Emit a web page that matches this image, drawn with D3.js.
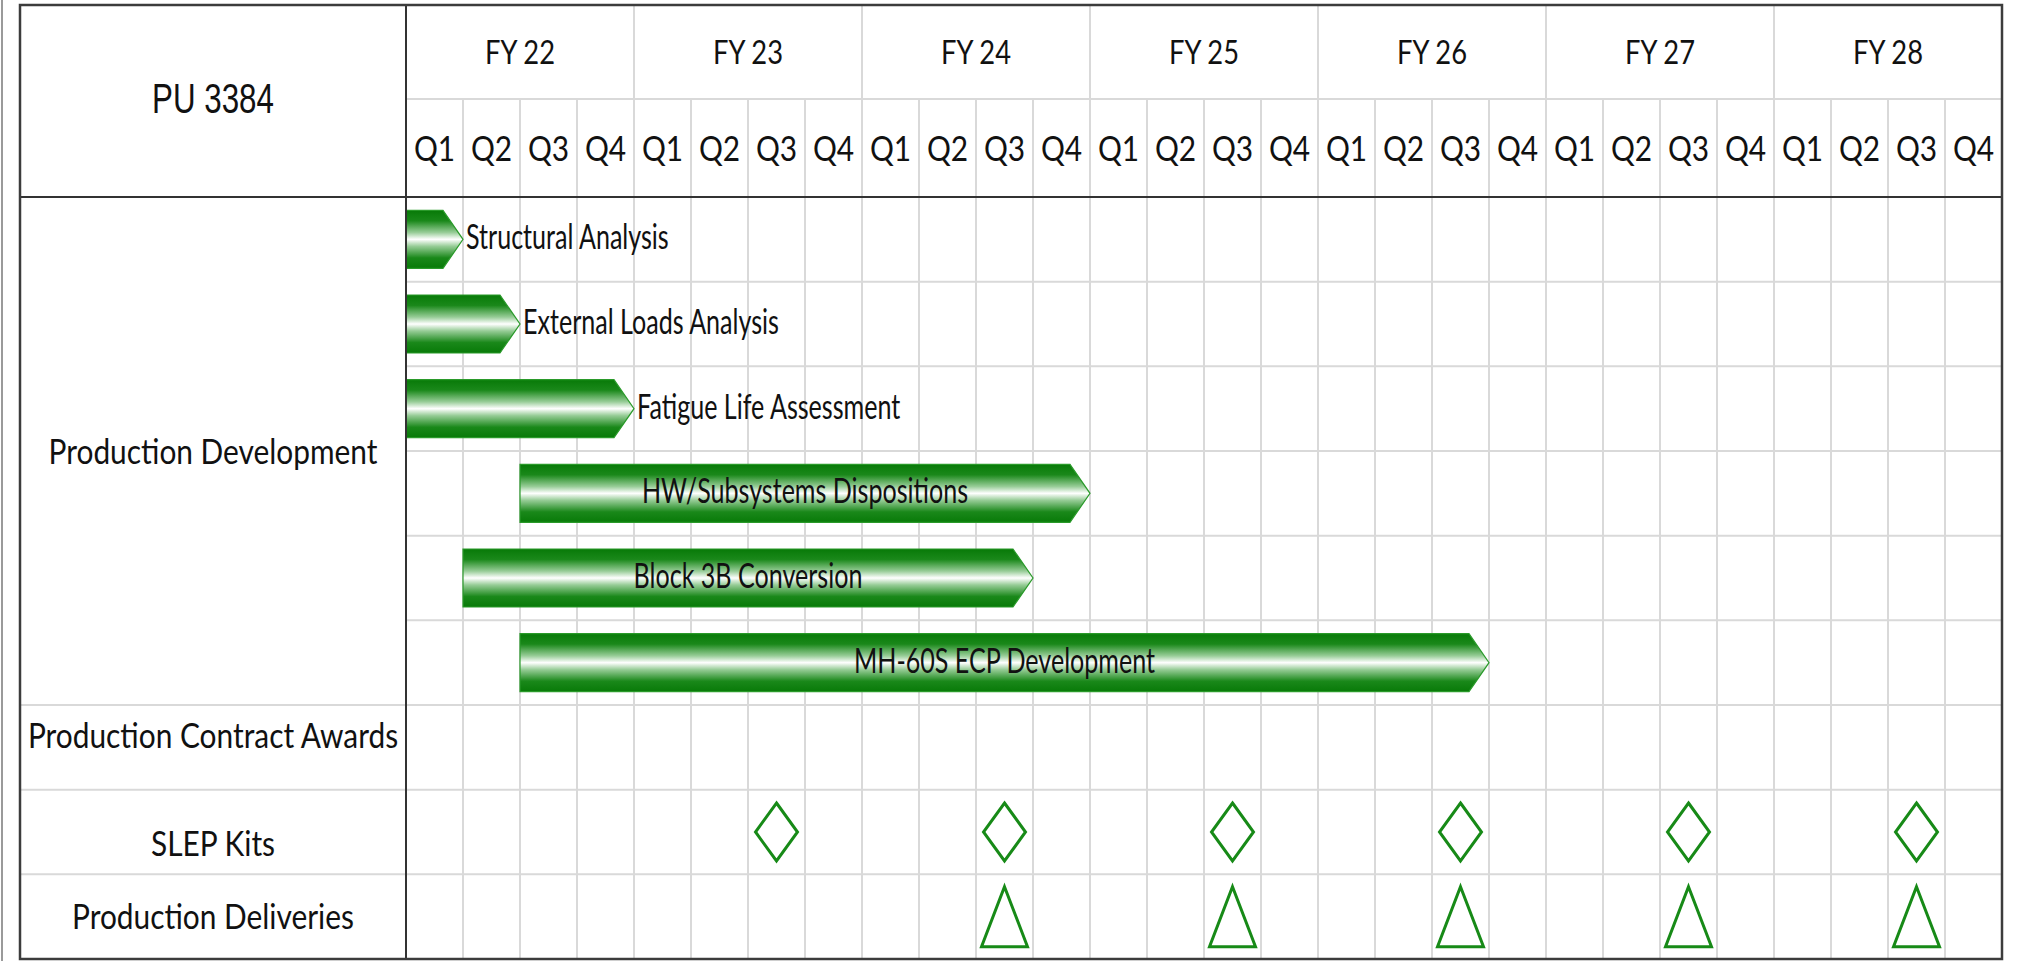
<!DOCTYPE html>
<html>
<head>
<meta charset="utf-8">
<title>PU 3384 schedule</title>
<script src="https://cdn.jsdelivr.net/npm/d3@7"></script>
<style>
  html, body { margin: 0; padding: 0; background: #ffffff; }
  svg { display: block; }
</style>
</head>
<body>
<div id="chart"></div>
<script>
// ---- data ----
const programName = 'PU 3384';
const fiscalYears = ['FY 22', 'FY 23', 'FY 24', 'FY 25', 'FY 26', 'FY 27', 'FY 28'];
const quarterNames = ['Q1', 'Q2', 'Q3', 'Q4'];

const sectionNames = ['Production Development', 'Production Contract Awards', 'SLEP Kits', 'Production Deliveries'];
const sectionRowSpan = [6, 1, 1, 1];

const taskNames = ['Structural Analysis', 'External Loads Analysis', 'Fatigue Life Assessment',
  'HW/Subsystems Dispositions', 'Block 3B Conversion', 'MH-60S ECP Development'];
const taskStart = ['FY 22 Q1', 'FY 22 Q1', 'FY 22 Q1', 'FY 22 Q3', 'FY 22 Q2', 'FY 22 Q3'];
const taskEnd = ['FY 22 Q1', 'FY 22 Q2', 'FY 22 Q4', 'FY 24 Q4', 'FY 24 Q3', 'FY 26 Q3'];
const taskLabelInside = [false, false, false, true, true, true];

const slepKits = ['FY 23 Q3', 'FY 24 Q3', 'FY 25 Q3', 'FY 26 Q3', 'FY 27 Q3', 'FY 28 Q3'];
const productionDeliveries = ['FY 24 Q3', 'FY 25 Q3', 'FY 26 Q3', 'FY 27 Q3', 'FY 28 Q3'];

// ---- layout ----
const width = 2017, height = 961;
const box = { left: 20, top: 5, right: 2002, bottom: 959 };
const labelColRight = 406;
const yearRowBottom = 99;
const headerBottom = 197;
const barHalf = 29;
const tipLen = 20;
const green = '#178a17';
const gridColor = '#d9d9d9';
const bodyFont = 'Lato, "Open Sans", sans-serif';
const titleFont = '"Liberation Sans", Arial, sans-serif';
// shift of section label baselines (some labels sit off-centre in the source)
const sectionLabelShift = [0, -12, 11, 0];

const quarterKeys = [];
fiscalYears.forEach(fy => quarterNames.forEach(q => quarterKeys.push(fy + ' ' + q)));

const svg = d3.select('#chart').append('svg')
  .attr('width', width)
  .attr('height', height);

svg.append('rect').attr('width', width).attr('height', height).attr('fill', '#fff');

const defs = svg.append('defs');
const grad = defs.append('linearGradient')
  .attr('id', 'barGrad')
  .attr('x1', 0).attr('y1', 0).attr('x2', 0).attr('y2', 1);
[[0, '#087a08'], [0.18, '#1a881a'], [0.38, '#96cc96'], [0.5, '#ffffff'],
 [0.62, '#96cc96'], [0.82, '#1a881a'], [1, '#087a08']].forEach(s => {
  grad.append('stop').attr('offset', s[0]).attr('stop-color', s[1]);
});

// scales
const x = d3.scaleBand().domain(quarterKeys).range([labelColRight, box.right]);
const xYear = d3.scaleBand().domain(fiscalYears).range([labelColRight, box.right]);
const totalRows = d3.sum(sectionRowSpan);
const y = d3.scaleBand().domain(d3.range(totalRows)).range([headerBottom, box.bottom]);

// horizontally condensed text, calibrated so the narrow source lettering is matched
function measure(str, size, family) {
  const t = svg.append('text').attr('font-size', size).attr('font-family', family).text(str);
  const w = t.node().getComputedTextLength();
  t.remove();
  return w;
}
const bodySize = 35;
const kBody = 329 / measure('Production Development', bodySize, bodyFont);
const kBar = kBody * 0.84;
const titleSize = 43;
const kTitle = 122 / measure(programName, titleSize, titleFont);

function addText(parent, str, px, py, size, opts) {
  opts = opts || {};
  const k = opts.k || kBody;
  return parent.append('text')
    .attr('transform', `translate(${px},${py}) scale(${k},1)`)
    .attr('text-anchor', opts.anchor || 'middle')
    .attr('font-family', opts.family || bodyFont)
    .attr('font-size', size)
    .attr('fill', '#111')
    .text(str);
}

// ---- grid ----
const grid = svg.append('g').attr('stroke', gridColor).attr('stroke-width', 2);

// far-left edge line of the source image
svg.append('line').attr('x1', 2).attr('x2', 2).attr('y1', 0).attr('y2', height)
  .attr('stroke', '#9a9a9a').attr('stroke-width', 2);

// quarter lines (quarter row + body)
grid.selectAll('.qline')
  .data(quarterKeys.slice(1))
  .enter().append('line')
  .attr('x1', d => x(d)).attr('x2', d => x(d))
  .attr('y1', yearRowBottom).attr('y2', box.bottom);

// year lines through the year row
grid.selectAll('.yline')
  .data(fiscalYears.slice(1))
  .enter().append('line')
  .attr('x1', d => xYear(d)).attr('x2', d => xYear(d))
  .attr('y1', box.top).attr('y2', yearRowBottom);

grid.append('line')
  .attr('x1', labelColRight).attr('x2', box.right)
  .attr('y1', yearRowBottom).attr('y2', yearRowBottom);

// row lines across the timeline
grid.selectAll('.rline')
  .data(d3.range(1, totalRows))
  .enter().append('line')
  .attr('x1', labelColRight).attr('x2', box.right)
  .attr('y1', d => y(d)).attr('y2', d => y(d));

// section boundaries through the label column
const sectionStartRow = sectionRowSpan.map((s, i) => d3.sum(sectionRowSpan.slice(0, i)));
grid.selectAll('.sline')
  .data(sectionStartRow.slice(1))
  .enter().append('line')
  .attr('x1', box.left).attr('x2', labelColRight)
  .attr('y1', d => y(d)).attr('y2', d => y(d));

// ---- header text ----
addText(svg, programName, (box.left + labelColRight) / 2, (box.top + headerBottom) / 2 + 11.5,
  titleSize, { family: titleFont, k: kTitle });

fiscalYears.forEach(fy => {
  addText(svg, fy, xYear(fy) + xYear.bandwidth() / 2, (box.top + yearRowBottom) / 2 + 11.5, 32);
});
quarterKeys.forEach(key => {
  addText(svg, key.split(' ')[2], x(key) + x.bandwidth() / 2, (yearRowBottom + headerBottom) / 2 + 12.5, bodySize);
});

// ---- section labels ----
sectionNames.forEach((name, i) => {
  const r0 = sectionStartRow[i];
  const top = y(r0);
  const bottom = y(r0 + sectionRowSpan[i] - 1) + y.bandwidth();
  addText(svg, name, (box.left + labelColRight) / 2, (top + bottom) / 2 + 12.5 + sectionLabelShift[i], bodySize);
});

// ---- task bars ----
const bars = svg.append('g');
taskNames.forEach((name, i) => {
  const cy = y(i) + y.bandwidth() / 2;
  const x0 = x(taskStart[i]);
  const x1 = x(taskEnd[i]) + x.bandwidth();
  const path = d3.path();
  path.moveTo(x0, cy - barHalf);
  path.lineTo(x1 - tipLen, cy - barHalf);
  path.lineTo(x1, cy);
  path.lineTo(x1 - tipLen, cy + barHalf);
  path.lineTo(x0, cy + barHalf);
  path.closePath();
  bars.append('path')
    .attr('d', path.toString())
    .attr('fill', 'url(#barGrad)')
    .attr('stroke', '#2a9a2a')
    .attr('stroke-width', 1.2);

  if (taskLabelInside[i]) {
    addText(bars, name, (x0 + x1) / 2, cy + 10, bodySize, { k: kBar });
  } else {
    addText(bars, name, x1 + 3, cy + 10, bodySize, { anchor: 'start', k: kBar });
  }
});

// ---- milestones ----
const slepRow = sectionStartRow[2];
const delivRow = sectionStartRow[3];

svg.append('g').selectAll('path')
  .data(slepKits)
  .enter().append('path')
  .attr('d', d => {
    const cx = x(d) + x.bandwidth() / 2;
    const cy = y(slepRow) + y.bandwidth() / 2;
    return `M${cx},${cy - 29}L${cx + 21},${cy}L${cx},${cy + 29}L${cx - 21},${cy}Z`;
  })
  .attr('fill', 'none')
  .attr('stroke', green)
  .attr('stroke-width', 3);

svg.append('g').selectAll('path')
  .data(productionDeliveries)
  .enter().append('path')
  .attr('d', d => {
    const cx = x(d) + x.bandwidth() / 2;
    const cy = y(delivRow) + y.bandwidth() / 2;
    return `M${cx},${cy - 30}L${cx + 23},${cy + 30}L${cx - 23},${cy + 30}Z`;
  })
  .attr('fill', 'none')
  .attr('stroke', green)
  .attr('stroke-width', 3);

// ---- dark frame lines ----
const frame = svg.append('g').attr('stroke', '#333').attr('fill', 'none');
frame.append('line')
  .attr('x1', box.left).attr('x2', box.right)
  .attr('y1', headerBottom).attr('y2', headerBottom)
  .attr('stroke-width', 2);
frame.append('line')
  .attr('x1', labelColRight).attr('x2', labelColRight)
  .attr('y1', box.top).attr('y2', box.bottom)
  .attr('stroke-width', 2);
frame.append('rect')
  .attr('x', box.left).attr('y', box.top)
  .attr('width', box.right - box.left).attr('height', box.bottom - box.top)
  .attr('stroke', '#3c3c3c')
  .attr('stroke-width', 2.5);
</script>
</body>
</html>
